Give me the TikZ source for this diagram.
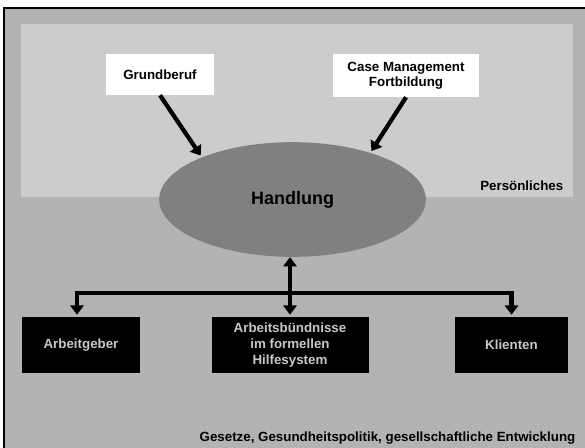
\documentclass[tikz,border=0pt]{standalone}
\usepackage{fontspec}
\setmainfont{Liberation Sans}
\usetikzlibrary{shapes.geometric,arrows.meta}
\definecolor{aussen}{HTML}{B3B3B3}
\definecolor{innen}{HTML}{CCCCCC}
\definecolor{kern}{HTML}{808080}
\definecolor{schrift}{HTML}{C8C8C8}
\tikzstyle{quelle} = [rectangle, fill=white, inner sep=0pt, align=center, font=\bfseries\fontsize{10}{11.5}\selectfont]
\tikzstyle{partner} = [rectangle, fill=black, text=schrift, inner sep=0pt, align=center, minimum height=42pt, font=\bfseries\fontsize{10}{12}\selectfont]
\tikzstyle{pfeil} = [line width=3.2pt, -{Triangle[width=10pt,length=7pt]}, shorten >=1.5pt]

\begin{document}
\begin{tikzpicture}[x=0.75pt,y=-0.75pt]
  \useasboundingbox (0,0) rectangle (585,447);
  % Rahmen und Ebenen
  \fill[aussen] (3.5,7.5) rectangle (590,450);
  \draw[line width=1.5pt] (3.5,450) -- (3.5,7.5) -- (590,7.5);
  \fill[innen] (21,24) rectangle (573,197);

  \node[quelle, minimum width=81pt, minimum height=30.75pt] (grund) at (160,74.5) {Grundberuf};
  \node[quelle, minimum width=109.5pt, minimum height=32.25pt] (case) at (406,75.5) {Case Management\\Fortbildung};
  \node[ellipse, fill=kern, inner sep=0pt, minimum width=200pt, minimum height=86pt,
        font=\bfseries\fontsize{13.5}{16}\selectfont] (handlung) at (292.5,199.5) {Handlung};
  \node[anchor=base east, font=\bfseries\fontsize{10}{12}\selectfont] (pers) at (568,190) {Persönliches};

  \node[partner, minimum width=88.5pt] (arb) at (81,345) {Arbeitgeber};
  \node[partner, minimum width=117.75pt] (mitte) at (290,345) {Arbeitsbündnisse\\im formellen\\Hilfesystem};
  \node[partner, minimum width=84.75pt] (klient) at (511.5,345) {Klienten};
  \node[anchor=base east, font=\bfseries\fontsize{10}{12}\selectfont] (umfeld) at (580,441)
    {Gesetze, Gesundheitspolitik, gesellschaftliche Entwicklung};

  \coordinate (knoten) at (290,293);

  \path[pfeil] (grund.south) edge (handlung.155);
  \path[pfeil] (case.south) edge (handlung.31);
  \draw[pfeil, {Triangle[width=10pt,length=7pt]}-{Triangle[width=10pt,length=7pt]}]
    (mitte.north |- handlung.south) -- (mitte.north);
  \draw[pfeil] (knoten) -| ([xshift=-3pt]arb.north);
  \draw[pfeil] (knoten) -| (klient.north);
\end{tikzpicture}
\end{document}
